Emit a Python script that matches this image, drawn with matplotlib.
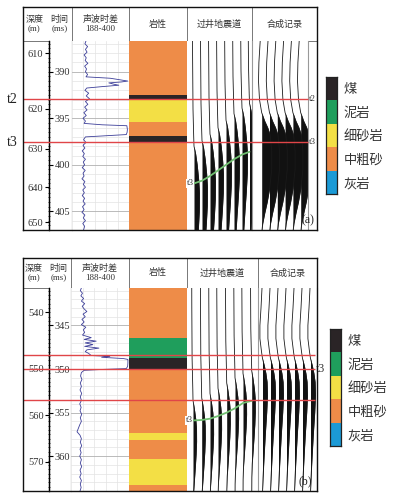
import matplotlib
matplotlib.use("Agg")
import matplotlib.pyplot as plt
import numpy as np
from matplotlib.ticker import MultipleLocator, FixedLocator

W, H = 395, 498
plt.rcParams['font.family'] = ['Liberation Serif', 'Noto Sans CJK SC']

# ---- shared data ----
lith_names = ['煤', '泥岩', '细砂岩', '中粗砂', '灰岩']
lith_colors = ['#2a2426', '#1f9e5c', '#f3df45', '#ee8c48', '#1b9ad6']
head_dt = ['深度\n(m)', '时间\n(ms)']
head_cols = ['声波时差\n188-400', '岩性', '过井地震道', '合成记录']

# ---- panel (a) ----
a_trange = (386.7, 407.0)
a_depth = [610, 620, 630, 640, 650]
a_depth_t = [388.03, 393.97, 398.25, 402.39, 406.18]
a_time_ticks = [390, 395, 400, 405]
a_lith_top = [386.7, 392.47, 392.93, 395.39, 396.86, 397.57]
a_lith_bot = [392.47, 392.93, 395.39, 396.86, 397.57, 407.0]
a_lith_code = [3, 0, 2, 3, 0, 3]
a_hz_t = [392.96, 397.6]
a_hz_name = ['t2', 't3']
a_sonic_t = [386.7, 387.0, 387.3, 387.6, 387.9, 388.2, 388.5, 388.8, 389.1, 389.4,
             389.7, 390.0, 390.3, 390.55, 390.7, 390.8, 391.0, 391.1, 391.2, 391.35,
             391.45, 391.6, 391.75, 392.0, 392.3, 392.6, 392.9, 393.2, 393.5, 393.8,
             394.1, 394.4, 394.7, 395.0, 395.3, 395.55, 395.7, 395.8, 396.2, 396.5,
             396.75, 396.9, 397.0, 397.3, 397.6, 397.9, 398.2, 398.5, 398.8, 399.1,
             399.4, 399.7, 400.0, 400.3, 400.6, 400.9, 401.2, 401.5, 401.8, 402.1,
             402.4, 402.7, 403.0, 403.3, 403.6, 403.9, 404.2, 404.5, 404.8, 405.1,
             405.4, 405.7, 406.0, 406.3, 406.6, 407.0]
a_sonic_v = [240, 236, 246, 238, 244, 233, 241, 237, 247, 235,
             242, 238, 246, 240, 330, 352, 395, 372, 325, 345,
             362, 300, 243, 236, 250, 241, 253, 238, 247, 235,
             244, 232, 241, 229, 238, 233, 300, 392, 394, 393,
             390, 300, 238, 231, 240, 229, 236, 226, 234, 228,
             238, 230, 235, 226, 237, 229, 233, 225, 236, 230,
             238, 228, 234, 226, 235, 229, 237, 227, 233, 225,
             236, 230, 238, 228, 235, 231]
a_seis_x0 = [7, 15, 23, 31, 39, 47, 55, 62.5]
a_seis_peak = [403.0, 402.4, 401.7, 401.0, 400.2, 399.5, 398.9, 398.4]
a_seis_rel = [-20, -16, -9, -6, -5, -4.2, -3, -1.5, 0, 2, 4, 6, 8, 10, 12]
a_seis_amp = [-1.7, -1.5, -1.0, -0.3, 0.0, 1.6, 3.2, 4.6, 5.5, 5.3, 4.3, 3.0, 1.8, 1.0, 0.6]
a_green_t = [402.0, 401.7, 401.2, 400.6, 400.0, 399.4, 398.9, 398.6]
a_syn_x0 = [9.7, 17.5, 25.3, 33.1, 40.9, 48.7]
a_syn_t = [386.7, 389.0, 391.0, 393.0, 394.4, 395.3, 396.0, 396.8, 398.5, 400.5,
           402.5, 404.0, 405.2, 406.3, 407.0]
a_syn_amp = [-1.5, -2.8, -3.2, -2.2, 0.0, 3.0, 6.0, 8.5, 10.0, 10.0,
             8.0, 5.5, 3.0, 1.0, 0.3]

# ---- panel (b) ----
b_trange = (340.7, 364.0)
b_depth = [540, 550, 560, 570]
b_depth_t = [343.47, 349.94, 355.3, 360.66]
b_time_ticks = [345, 350, 355, 360]
b_lith_top = [340.7, 346.49, 348.79, 350.02, 357.33, 358.17, 360.27, 363.34]
b_lith_bot = [346.49, 348.79, 350.02, 357.33, 358.17, 360.27, 363.34, 364.0]
b_lith_code = [3, 1, 0, 3, 2, 3, 2, 3]
b_hz_t = [348.44, 350.05, 353.58]
b_hz_name = ['', 't3', '']
b_sonic_t = [340.7, 341.0, 341.3, 341.6, 341.9, 342.2, 342.5, 342.8, 343.1, 343.4,
             343.7, 344.0, 344.3, 344.6, 344.9, 345.2, 345.5, 345.8, 346.1, 346.4,
             346.6, 346.8, 347.0, 347.2, 347.4, 347.6, 347.8, 348.0, 348.2, 348.45,
             348.55, 348.65, 348.8, 348.9, 349.3, 349.7, 349.95, 350.05, 350.15, 350.4,
             350.8, 351.2, 351.6, 352.0, 352.4, 352.8, 353.2, 353.6, 354.0, 354.4,
             354.8, 355.2, 355.6, 356.0, 356.4, 356.8, 357.2, 357.6, 358.0, 358.4,
             358.8, 359.2, 359.6, 360.0, 360.4, 360.8, 361.2, 361.6, 362.0, 362.4,
             362.8, 363.2, 363.6, 364.0]
b_sonic_v = [226, 222, 230, 224, 234, 226, 238, 229, 236, 246,
             232, 240, 228, 236, 226, 242, 233, 238, 230, 262,
             236, 280, 240, 268, 238, 290, 246, 240, 252, 262,
             330, 300, 380, 396, 396, 395, 390, 300, 236, 226,
             223, 228, 222, 226, 221, 227, 222, 226, 220, 225,
             221, 227, 222, 226, 220, 215, 210, 221, 226, 222,
             227, 221, 225, 220, 226, 222, 227, 221, 225, 220,
             226, 222, 225, 221]
b_seis_x0 = [6, 14.7, 23, 31, 39.7, 48, 56, 64.7]
b_seis_peak = [356.8, 356.5, 356.0, 355.4, 354.8, 354.2, 353.7, 353.4]
b_seis_rel = [-18, -14, -8, -4.5, -3.2, -2.2, -1, 0, 1.5, 3, 4.5, 6, 7.5, 9, 12]
b_seis_amp = [-1.3, -1.2, -0.9, -0.2, 0.0, 1.4, 2.8, 3.5, 3.6, 3.1, 2.3, 1.4, 0.5, 0.1, 0.0]
b_green_t = [355.9, 355.85, 355.7, 355.4, 355.0, 354.5, 353.9, 353.65]
b_syn_x0 = [4.5, 12.5, 20.5, 28.5, 36.5, 44.5, 52.5]
b_syn_t = [340.7, 343.0, 345.0, 346.5, 348.0, 348.8, 349.6, 350.5, 351.5, 353.0,
           355.0, 357.5, 360.0, 362.5, 364.0]
b_syn_amp = [-0.5, -1.5, -2.6, -2.6, -1.0, 0.0, 1.8, 3.4, 4.6, 5.0,
             4.2, 2.8, 1.6, 0.5, 0.0]

fig = plt.figure(figsize=(W / 100, H / 100), dpi=100)


def add_ax(x0, y0, x1, y1):
    return fig.add_axes([x0 / W, 1 - y1 / H, (x1 - x0) / W, (y1 - y0) / H])


def bare(ax):
    ax.set_xticks([])
    ax.set_yticks([])
    for s in ax.spines.values():
        s.set_visible(False)


def traces(ax, x0s, tlist, amp):
    amp = np.asarray(amp)
    for x0, t in zip(x0s, tlist):
        ax.plot(x0 + amp, t, color='#1a1a1a', lw=0.6)
        ax.fill_betweenx(t, x0, x0 + amp, where=amp > 0, interpolate=True,
                         color='#111111', lw=0)


def draw_panel(lay, trange, depth, depth_t, tticks, ltop, lbot, lcode,
               son_t, son_v, seis_x0, seis_peak, seis_rel, seis_amp, green_t,
               syn_x0, syn_t, syn_amp, hz_t, hz_name, tag):
    e = lay['edges']
    top, hdr, bot = lay['top'], lay['hdr'], lay['bot']
    t0, t1 = trange

    # header cells
    for i in range(5):
        hx = add_ax(e[i], top, e[i + 1], hdr)
        bare(hx)
        for s in hx.spines.values():
            s.set_visible(True)
            s.set_color('#777777')
            s.set_linewidth(0.7)
        if i == 0:
            for xr, txt in zip([0.23, 0.74], head_dt):
                hx.text(xr, 0.5, txt, ha='center', va='center', fontsize=6.5,
                        linespacing=1.25, color='#333333')
        else:
            hx.text(0.5, 0.5, head_cols[i - 1], ha='center', va='center',
                    fontsize=6.5, linespacing=1.25, color='#333333')

    # depth / time axis
    al = add_ax(lay['line'], hdr, e[1], bot)
    al.set_ylim(t1, t0)
    al.set_xticks([])
    al.spines['top'].set_visible(False)
    al.spines['bottom'].set_visible(False)
    al.spines['left'].set_linewidth(0.9)
    al.spines['right'].set_color('#444444')
    al.spines['right'].set_linewidth(0.8)
    al.set_yticks(depth_t, labels=[str(d) for d in depth])
    al.yaxis.set_minor_locator(MultipleLocator(0.5))
    al.tick_params(axis='y', which='major', direction='out', length=3, pad=1,
                   labelsize=7.5, labelcolor='#333333')
    al.tick_params(axis='y', which='minor', direction='inout', length=2, width=0.5)
    sec = al.secondary_yaxis(0)
    sec.set_alignment('right')
    sec.set_yticks(tticks)
    sec.tick_params(axis='y', direction='out', length=3, pad=1, labelsize=7.5,
                    labelcolor='#333333')
    sec.spines['right'].set_linewidth(0.9)

    # sonic log
    asn = add_ax(e[1], hdr, e[2], bot)
    asn.plot(son_v, son_t, color='#3d3f99', lw=0.6)
    asn.set_xlim(188, 400)
    asn.set_ylim(t1, t0)
    asn.xaxis.set_major_locator(FixedLocator(np.linspace(188, 400, 6)))
    asn.yaxis.set_major_locator(MultipleLocator(5))
    asn.yaxis.set_minor_locator(MultipleLocator(1))
    asn.grid(which='minor', axis='y', color='#e3e3e3', lw=0.5)
    asn.grid(which='major', axis='y', color='#b0b0b0', lw=0.6)
    asn.grid(which='major', axis='x', color='#e3e3e3', lw=0.5)
    asn.set_axisbelow(True)
    asn.tick_params(which='both', length=0, labelleft=False, labelbottom=False)
    for s in asn.spines.values():
        s.set_visible(False)

    # lithology
    ali = add_ax(e[2], hdr, e[3], bot)
    heights = [b - a for a, b in zip(ltop, lbot)]
    ali.bar(0.5, heights, bottom=ltop, width=1,
            color=[lith_colors[c] for c in lcode], lw=0)
    ali.set_xlim(0, 1)
    ali.set_ylim(t1, t0)
    bare(ali)

    # seismic traces at the well
    ase = add_ax(e[3], hdr, e[4], bot)
    ase.set_xlim(0, e[4] - e[3])
    ase.set_ylim(t1, t0)
    bare(ase)
    traces(ase, seis_x0, [p + np.asarray(seis_rel) for p in seis_peak], seis_amp)
    ase.plot(seis_x0, green_t, color='#72c072', lw=1.3, solid_capstyle='round')
    ase.text(seis_x0[0] - 0.5, green_t[0], 't3', ha='right', va='center',
             fontsize=6.5, color='#333333',
             bbox=dict(facecolor='white', edgecolor='none', pad=0.2))

    # synthetic record
    asy = add_ax(e[4], hdr, lay['syn_right'], bot)
    asy.set_xlim(0, lay['syn_right'] - e[4])
    asy.set_ylim(t1, t0)
    bare(asy)
    for side in ['left', 'right']:
        asy.spines[side].set_visible(True)
        asy.spines[side].set_color('#999999')
        asy.spines[side].set_linewidth(0.8)
    traces(asy, syn_x0, [syn_t] * len(syn_x0), syn_amp)

    # horizons
    ao = add_ax(e[0], hdr, e[5], bot)
    ao.set_facecolor('none')
    ao.set_xlim(e[0], e[5])
    ao.set_ylim(t1, t0)
    bare(ao)
    ao.hlines(hz_t, e[0], lay['red_right'], color='#e04548', lw=1.0)
    for t, nm in zip(hz_t, hz_name):
        if nm:
            ao.text(lay['red_right'] + 1, t, nm, ha='left', va='center',
                    fontsize=lay['rlab_fs'], color='#333333', clip_on=False)
            if lay['left_lab']:
                ao.text(12, t, nm, ha='center', va='center', fontsize=10,
                        color='#222222', clip_on=False)

    # outer box
    box = add_ax(e[0], top, e[5], bot)
    box.set_facecolor('none')
    box.set_xticks([])
    box.set_yticks([])
    for s in box.spines.values():
        s.set_linewidth(1.0)
        s.set_color('#111111')

    fig.text(lay['tag_xy'][0] / W, 1 - lay['tag_xy'][1] / H, tag,
             ha='center', va='center', fontsize=8.5, color='#222222')

    # legend
    lx0, ly0, lx1, ly1 = lay['legend']
    lg = add_ax(lx0, ly0, lx1, ly1)
    lg.barh(range(len(lith_names)), 1, height=1, left=0, color=lith_colors, lw=0)
    lg.set_xlim(0, 1)
    lg.set_ylim(len(lith_names) - 0.5, -0.5)
    lg.set_xticks([])
    lg.set_yticks(range(len(lith_names)), labels=lith_names)
    lg.yaxis.tick_right()
    lg.tick_params(axis='y', length=0, pad=5, labelsize=9.5, labelcolor='#333333')
    for s in lg.spines.values():
        s.set_linewidth(0.9)
        s.set_color('#222222')


lay_a = dict(top=7, hdr=41, bot=230, edges=[23, 72, 129, 187, 252, 317],
             line=49, syn_right=308, red_right=308, rlab_fs=6.5, left_lab=True,
             tag_xy=(308, 220), legend=(326, 77, 337, 194))
lay_b = dict(top=258, hdr=288, bot=491, edges=[23, 71, 129, 187, 258, 317],
             line=49, syn_right=317, red_right=315, rlab_fs=8.5, left_lab=False,
             tag_xy=(305, 481), legend=(330, 329, 341, 446))

draw_panel(lay_a, a_trange, a_depth, a_depth_t, a_time_ticks, a_lith_top, a_lith_bot,
           a_lith_code, a_sonic_t, a_sonic_v, a_seis_x0, a_seis_peak, a_seis_rel,
           a_seis_amp, a_green_t, a_syn_x0, a_syn_t, a_syn_amp, a_hz_t, a_hz_name, '(a)')
draw_panel(lay_b, b_trange, b_depth, b_depth_t, b_time_ticks, b_lith_top, b_lith_bot,
           b_lith_code, b_sonic_t, b_sonic_v, b_seis_x0, b_seis_peak, b_seis_rel,
           b_seis_amp, b_green_t, b_syn_x0, b_syn_t, b_syn_amp, b_hz_t, b_hz_name, '(b)')

fig.savefig('out.png', dpi=100)
